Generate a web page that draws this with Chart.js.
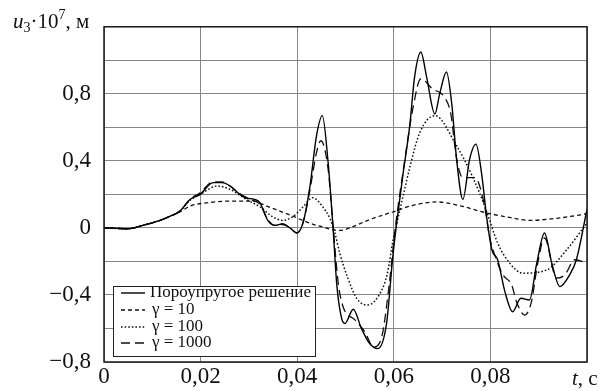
<!DOCTYPE html>
<html>
<head>
<meta charset="utf-8">
<script src="https://cdn.jsdelivr.net/npm/chart.js@4.4.1/dist/chart.umd.min.js"></script>
<style>
  html, body { margin: 0; padding: 0; background: #fff; }
  #wrap { width: 603px; height: 391px; }
</style>
</head>
<body>
<div id="wrap"><canvas id="chart" width="603" height="391"></canvas></div>
<script>
// --- Data ---
const poroT = [0, 0.003, 0.005, 0.008, 0.0116, 0.0137, 0.0157, 0.0178, 0.0199, 0.0226, 0.0244, 0.0261, 0.0281, 0.0292, 0.0312, 0.0323, 0.0339, 0.0354, 0.037, 0.0385, 0.0399, 0.0412, 0.0426, 0.044, 0.0452, 0.0464, 0.0474, 0.0482, 0.0492, 0.0499, 0.0516, 0.0533, 0.055, 0.0567, 0.0585, 0.0598, 0.0606, 0.0619, 0.0633, 0.0643, 0.0656, 0.0668, 0.0685, 0.0695, 0.0709, 0.072, 0.073, 0.0743, 0.0757, 0.077, 0.0782, 0.0792, 0.0803, 0.0815, 0.083, 0.0846, 0.0863, 0.0881, 0.0896, 0.0912, 0.0927, 0.0944, 0.0964, 0.0978, 0.1];
const poroU = [0, -0.003, -0.005, 0.015, 0.045, 0.07, 0.10, 0.17, 0.20, 0.27, 0.27, 0.25, 0.20, 0.18, 0.17, 0.15, 0.045, 0.015, 0.025, 0, -0.03, 0.03, 0.24, 0.55, 0.67, 0.39, 0.01, -0.34, -0.54, -0.57, -0.485, -0.60, -0.69, -0.72, -0.57, -0.17, 0.03, 0.32, 0.61, 0.90, 1.05, 0.90, 0.68, 0.80, 0.93, 0.74, 0.41, 0.17, 0.41, 0.50, 0.32, 0.07, -0.13, -0.19, -0.38, -0.50, -0.42, -0.43, -0.21, -0.03, -0.21, -0.35, -0.28, -0.19, 0.11];

const g10T = [0, 0.005, 0.008, 0.0116, 0.0137, 0.0157, 0.0178, 0.0213, 0.0261, 0.0308, 0.0337, 0.0364, 0.0391, 0.042, 0.0447, 0.0488, 0.0509, 0.055, 0.0598, 0.064, 0.0689, 0.074, 0.0784, 0.0835, 0.0881, 0.093, 0.0991, 0.1];
const g10U = [0, -0.005, 0.015, 0.045, 0.07, 0.095, 0.13, 0.15, 0.16, 0.16, 0.13, 0.10, 0.07, 0.035, 0.01, -0.015, 0, 0.05, 0.095, 0.135, 0.155, 0.13, 0.095, 0.065, 0.045, 0.055, 0.08, 0.085];

const g100T = [0, 0.005, 0.008, 0.0116, 0.0137, 0.0157, 0.0178, 0.0199, 0.0235, 0.0261, 0.0295, 0.0323, 0.0349, 0.037, 0.0391, 0.0412, 0.0432, 0.0453, 0.0468, 0.0478, 0.0488, 0.0505, 0.0523, 0.0544, 0.0565, 0.0586, 0.0598, 0.0608, 0.062, 0.0633, 0.0654, 0.0685, 0.073, 0.0764, 0.0792, 0.0815, 0.084, 0.0867, 0.0917, 0.0958, 0.1];
const g100U = [0, -0.005, 0.015, 0.045, 0.07, 0.10, 0.165, 0.20, 0.25, 0.23, 0.17, 0.125, 0.067, 0.045, 0.067, 0.125, 0.18, 0.125, 0.055, -0.03, -0.15, -0.30, -0.42, -0.46, -0.42, -0.28, -0.08, 0.05, 0.20, 0.36, 0.57, 0.67, 0.49, 0.30, 0.10, -0.09, -0.21, -0.27, -0.25, -0.13, 0.03];

const g1000T = [0, 0.005, 0.008, 0.0116, 0.0137, 0.0157, 0.0178, 0.0199, 0.0226, 0.0244, 0.0261, 0.0281, 0.0303, 0.0323, 0.0339, 0.0354, 0.037, 0.0385, 0.0399, 0.0412, 0.0426, 0.044, 0.0449, 0.0464, 0.0474, 0.0485, 0.0495, 0.052, 0.054, 0.0558, 0.0575, 0.059, 0.0603, 0.062, 0.064, 0.0656, 0.068, 0.0705, 0.0718, 0.073, 0.0743, 0.0768, 0.0788, 0.0798, 0.081, 0.0826, 0.0844, 0.0854, 0.0871, 0.0885, 0.0898, 0.0912, 0.0937, 0.0954, 0.0975, 0.1];
const g1000U = [0, -0.005, 0.015, 0.045, 0.07, 0.10, 0.17, 0.21, 0.275, 0.275, 0.25, 0.205, 0.17, 0.14, 0.05, 0.015, 0.02, 0, -0.03, 0.03, 0.22, 0.45, 0.52, 0.35, 0.02, -0.33, -0.47, -0.55, -0.62, -0.71, -0.65, -0.35, 0, 0.35, 0.72, 0.89, 0.83, 0.78, 0.68, 0.415, 0.30, 0.30, 0.13, -0.05, -0.17, -0.28, -0.34, -0.44, -0.52, -0.44, -0.21, -0.06, -0.30, -0.28, -0.19, -0.21];

const seriesLabels = ['Пороупругое решение', 'γ = 10', 'γ = 100', 'γ = 1000'];

const SERIF = '"Liberation Serif", "Times New Roman", serif';

function pairs(ts, us) {
    return ts.map((t, i) => ({ x: t, y: us[i] }));
}

function fmt(v, digits) {
    const s = Math.abs(v).toFixed(digits).replace('.', ',');
    return (v < 0 ? '−' : '') + s;
}

// --- Frame, legend and axis titles ---
const decorPlugin = {
    id: 'decor',
    afterDraw(chart) {
        const ctx = chart.ctx;
        const a = chart.chartArea;
        ctx.save();

        // frame
        ctx.strokeStyle = '#1a1a1a';
        ctx.lineWidth = 1.5;
        ctx.strokeRect(a.left, a.top, a.right - a.left, a.bottom - a.top);

        // legend box
        const lx = 113, ly = 286, lw = 202, lh = 70;
        ctx.fillStyle = '#fff';
        ctx.fillRect(lx, ly, lw, lh);
        ctx.strokeStyle = '#222';
        ctx.lineWidth = 1;
        ctx.strokeRect(lx + 0.5, ly + 0.5, lw, lh);

        const rows = [293, 310, 327, 343];
        chart.data.datasets.forEach((ds, i) => {
            const y = rows[i];
            ctx.beginPath();
            ctx.setLineDash(ds.borderDash || []);
            ctx.lineWidth = ds.borderWidth;
            ctx.strokeStyle = ds.borderColor;
            ctx.moveTo(121, y);
            ctx.lineTo(145, y);
            ctx.stroke();
            ctx.setLineDash([]);
            ctx.fillStyle = '#111';
            ctx.font = '17px ' + SERIF;
            ctx.textBaseline = 'middle';
            ctx.textAlign = 'left';
            ctx.fillText(ds.label, i === 0 ? 150 : 152, y);
        });

        // y axis title: u3·10^7, м
        ctx.fillStyle = '#111';
        ctx.textBaseline = 'alphabetic';
        let x = 13;
        const base = 28;
        ctx.font = 'italic 21px ' + SERIF;
        ctx.fillText('u', x, base);
        x += ctx.measureText('u').width;
        ctx.font = '14px ' + SERIF;
        ctx.fillText('3', x, base + 4);
        x += ctx.measureText('3').width;
        ctx.font = '21px ' + SERIF;
        ctx.fillText('·10', x, base);
        x += ctx.measureText('·10').width;
        ctx.font = '14px ' + SERIF;
        ctx.fillText('7', x, base - 9);
        x += ctx.measureText('7').width;
        ctx.font = '21px ' + SERIF;
        ctx.fillText(', м', x, base);

        // x axis title: t, c
        x = 572;
        ctx.font = 'italic 21px ' + SERIF;
        ctx.fillText('t', x, 385);
        x += ctx.measureText('t').width;
        ctx.font = '21px ' + SERIF;
        ctx.fillText(', с', x, 385);

        ctx.restore();
    }
};

// --- Chart ---
const ctx = document.getElementById('chart').getContext('2d');
new Chart(ctx, {
    type: 'line',
    data: {
        datasets: [
            {
                label: seriesLabels[0],
                data: pairs(poroT, poroU),
                borderColor: '#000',
                borderWidth: 1.4,
                borderDash: []
            },
            {
                label: seriesLabels[1],
                data: pairs(g10T, g10U),
                borderColor: '#111',
                borderWidth: 1.3,
                borderDash: [4, 3]
            },
            {
                label: seriesLabels[2],
                data: pairs(g100T, g100U),
                borderColor: '#111',
                borderWidth: 1.5,
                borderDash: [1.6, 2]
            },
            {
                label: seriesLabels[3],
                data: pairs(g1000T, g1000U),
                borderColor: '#111',
                borderWidth: 1.3,
                borderDash: [9, 5]
            }
        ]
    },
    options: {
        responsive: false,
        animation: false,
        events: [],
        layout: { padding: { top: 19, right: 16, left: 0, bottom: 0 } },
        elements: {
            point: { radius: 0 },
            line: { tension: 0.4, cubicInterpolationMode: 'monotone', fill: false }
        },
        plugins: {
            legend: { display: false },
            title: { display: false },
            tooltip: { enabled: false }
        },
        scales: {
            x: {
                type: 'linear',
                min: 0,
                max: 0.1,
                afterFit: (s) => { s.height = 29; },
                border: { display: false },
                grid: { color: '#868686', lineWidth: 1, drawTicks: false },
                ticks: {
                    stepSize: 0.02,
                    autoSkip: false,
                    maxRotation: 0,
                    padding: 1,
                    color: '#111',
                    font: { family: SERIF, size: 23 },
                    callback: (v) => {
                        if (Math.abs(v) < 1e-9) return '0';
                        if (v > 0.099) return '';
                        return fmt(v, 2);
                    }
                }
            },
            y: {
                min: -0.8,
                max: 1.2,
                afterFit: (s) => { s.width = 104; },
                border: { display: false },
                grid: { color: '#868686', lineWidth: 1, drawTicks: false },
                ticks: {
                    stepSize: 0.2,
                    autoSkip: false,
                    padding: 13,
                    color: '#111',
                    font: { family: SERIF, size: 23 },
                    callback: (v) => {
                        const k = Math.round(v * 5);
                        if (k % 2 !== 0 || k === 6) return '';
                        if (k === 0) return '0';
                        return fmt(v, 1);
                    }
                }
            }
        }
    },
    plugins: [decorPlugin]
});
</script>
</body>
</html>
